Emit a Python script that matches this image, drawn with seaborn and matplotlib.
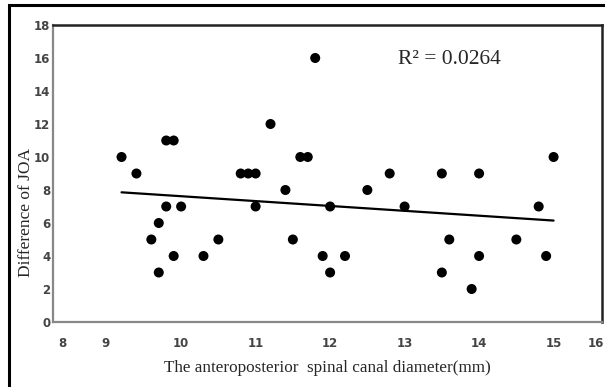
import numpy as np
import pandas as pd
import matplotlib
matplotlib.use("Agg")
import matplotlib.pyplot as plt
import seaborn as sns
from matplotlib.patches import Rectangle

# Data
diameter_mm = [9.2, 9.4, 9.6, 9.7, 9.7, 9.8, 9.9, 9.8, 9.9, 10.0,
               10.3, 10.5, 10.8, 10.9, 11.0, 11.0, 11.2, 11.4, 11.5, 11.6,
               11.7, 11.8, 11.9, 12.0, 12.0, 12.2, 12.5, 12.8, 13.0, 13.5,
               13.5, 13.6, 13.9, 14.0, 14.0, 14.5, 14.8, 14.9, 15.0]
joa_difference = [10, 9, 5, 6, 3, 11, 11, 7, 4, 7,
                  4, 5, 9, 9, 9, 7, 12, 8, 5, 10,
                  10, 16, 4, 7, 3, 4, 8, 9, 7, 9,
                  3, 5, 2, 9, 4, 5, 7, 4, 10]
x_tick_labels = ["8", "9", "10", "11", "12", "13", "14", "15", "16"]
y_ticks = [0, 2, 4, 6, 8, 10, 12, 14, 16, 18]
r2_text = "R\u00b2 = 0.0264"
x_label = "The anteroposterior  spinal canal diameter(mm)"
y_label = "Difference of JOA"

df = pd.DataFrame({"x": diameter_mm, "y": joa_difference})

sns.set_style("white")
fig = plt.figure(figsize=(6.05, 3.87), dpi=100)
ax = fig.add_axes([53 / 605, 65 / 387, 549 / 605, 297 / 387])

sns.regplot(data=df, x="x", y="y", ax=ax, ci=None, truncate=True,
            scatter_kws=dict(s=52, color="black", edgecolors="none", alpha=1),
            line_kws=dict(color="black", lw=1.6))

ax.set_xlim(8.28, 15.65)
ax.set_ylim(0, 18)
# tick labels placed where they appear in the reference
ax.set_xticks([8.40, 8.98, 10, 11, 12, 13, 14, 15, 15.57])
ax.set_xticklabels(x_tick_labels)
ax.set_yticks(y_ticks)
ax.tick_params(axis="both", length=0, labelsize=8.5, colors="#444444")
for lab in ax.get_xticklabels() + ax.get_yticklabels():
    lab.set_fontweight("bold")
    lab.set_family("DejaVu Sans")
ax.tick_params(axis="x", pad=11)
ax.tick_params(axis="y", pad=2)

ax.set_xlabel(x_label, family="Liberation Serif", fontsize=12.3)
ax.xaxis.set_label_coords(0.5, -0.128)
ax.set_ylabel(y_label, family="Liberation Serif", fontsize=12.5)
ax.yaxis.set_label_coords(-0.034, 0.37)

ax.spines["left"].set_color("#888888")
ax.spines["bottom"].set_color("#888888")
ax.spines["left"].set_linewidth(1.6)
ax.spines["bottom"].set_linewidth(1.6)
ax.spines["top"].set_color("#222222")
ax.spines["right"].set_color("#222222")
ax.spines["top"].set_linewidth(1.8)
ax.spines["right"].set_linewidth(1.8)

ax.text(0.722, 0.885, r2_text, transform=ax.transAxes, ha="center", va="center",
        family="Liberation Serif", fontsize=15.5)

# outer frame of the figure
fig.patches.append(Rectangle((9 / 605, -0.05), 1.2, (387 - 5) / 387 + 0.05,
                             transform=fig.transFigure, fill=False,
                             edgecolor="black", lw=2.2, zorder=10))

fig.savefig("out.png", dpi=100)
